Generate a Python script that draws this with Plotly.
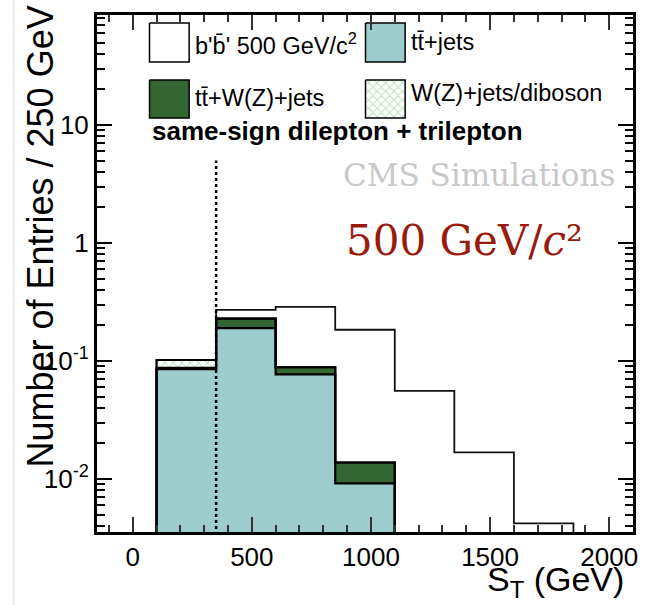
import plotly.graph_objects as go

# ---------------- data ----------------
bin_edges = [100, 350, 600, 850, 1100, 1350, 1600, 1850]
tt_jets = [0.0855, 0.190, 0.077, 0.0092, 0.0, 0.0, 0.0]
ttW_jets = [0.002, 0.039, 0.0115, 0.0046, 0.0, 0.0, 0.0]
wz_jets_diboson = [0.0145, 0.0, 0.0, 0.0, 0.0, 0.0, 0.0]
signal_bprime = [0.0, 0.271, 0.287, 0.184, 0.0558, 0.0168, 0.0042]
st_cut = 350
st_cut_top = 5.0

x_tickvals = [0, 500, 1000, 1500, 2000]
y_tickvals = [0.01, 0.1, 1, 10]
y_ticktext = ["10<sup>-2</sup>", "10<sup>-1</sup>", "1", "10"]

legend_labels = ["b'b\u0304' 500 GeV/c<sup>2</sup>", "tt\u0304+jets",
                 "tt\u0304+W(Z)+jets", "W(Z)+jets/diboson"]

# ---------------- style ----------------
C_TEAL = "#9ccccc"
C_GREEN = "#336633"
C_HATCH = "#7cc47c"
HATCH = dict(shape="x", fgcolor=C_HATCH, bgcolor="white", size=6, solidity=0.3)
FLOOR = 1e-4
L, R, T, B = 97, 638, 15, 532
W, H = 650, 605
SANS = "Liberation Sans, Arial, sans-serif"
SERIF = "DejaVu Serif, serif"

n = len(bin_edges) - 1
cum1 = tt_jets[:]
cum2 = [a + b for a, b in zip(cum1, ttW_jets)]
cum3 = [a + b for a, b in zip(cum2, wz_jets_diboson)]


def outline(vals):
    idx = [i for i, v in enumerate(vals) if v > 0]
    i0, i1 = idx[0], idx[-1]
    xs, ys = [bin_edges[i0]], [FLOOR]
    for i in range(i0, i1 + 1):
        xs += [bin_edges[i], bin_edges[i + 1]]
        ys += [vals[i], vals[i]]
    xs.append(bin_edges[i1 + 1])
    ys.append(FLOOR)
    return xs, ys


def band(lower, upper):
    idx = [i for i in range(n) if upper[i] > lower[i]]
    i0, i1 = idx[0], idx[-1]
    xs, ys = [], []
    for i in range(i0, i1 + 1):
        xs += [bin_edges[i], bin_edges[i + 1]]
        ys += [upper[i], upper[i]]
    for i in range(i1, i0 - 1, -1):
        lo = lower[i] if lower[i] > 0 else FLOOR
        xs += [bin_edges[i + 1], bin_edges[i]]
        ys += [lo, lo]
    return xs, ys


fig = go.Figure()

# signal outline (drawn first, hidden behind the stack)
sx, sy = outline(signal_bprime)
fig.add_trace(go.Scatter(x=sx, y=sy, mode="lines", line=dict(color="#111", width=1.8),
                         hoverinfo="skip", showlegend=False))

# stack fills
zeros = [0.0] * n
for lo, up, col, pat in [(zeros, cum1, C_TEAL, False), (cum1, cum2, C_GREEN, False),
                         (cum2, cum3, "white", True)]:
    bx, by = band(lo, up)
    kw = dict(x=bx, y=by, mode="none", fill="toself", fillcolor=col,
              hoverinfo="skip", showlegend=False)
    if pat:
        kw["fillpattern"] = HATCH
    fig.add_trace(go.Scatter(**kw))

# stack outlines
for c in [cum1, cum2, cum3]:
    ox, oy = outline(c)
    fig.add_trace(go.Scatter(x=ox, y=oy, mode="lines", line=dict(color="black", width=2.2),
                             hoverinfo="skip", showlegend=False))

# cut line
fig.add_trace(go.Scatter(x=[st_cut, st_cut], y=[FLOOR, st_cut_top], mode="lines",
                         line=dict(color="black", width=2.5, dash="dot"),
                         hoverinfo="skip", showlegend=False))

# ---------------- legend (pixel overlay axes) ----------------
boxes = [(150, 23, 190, 62, "white", False), (368, 23, 408, 62, C_TEAL, False),
         (150, 80, 190, 118, C_GREEN, False), (368, 80, 408, 118, "white", True)]
for (x0, y0, x1, y1, col, pat) in boxes:
    kw = dict(x=[x0, x1, x1, x0, x0], y=[y0, y0, y1, y1, y0], mode="lines",
              line=dict(color="black", width=1.5), fill="toself", fillcolor=col,
              xaxis="x2", yaxis="y2", hoverinfo="skip", showlegend=False)
    if pat:
        kw["fillpattern"] = HATCH
    fig.add_trace(go.Scatter(**kw))


def px(x):
    return (x - L) / (R - L)


def py(y):
    return (B - y) / (B - T)


ann = []
legend_pos = [(194, 44), (412, 42), (194, 98), (412, 93)]
for lab, (x, y) in zip(legend_labels, legend_pos):
    ann.append(dict(text=lab, x=px(x), y=py(y), xref="paper", yref="paper",
                    xanchor="left", yanchor="middle", showarrow=False,
                    font=dict(family=SANS, size=23.5, color="black")))

ann.append(dict(text="<b>same-sign dilepton + trilepton</b>", x=px(150), y=py(131),
                xref="paper", yref="paper", xanchor="left", yanchor="middle",
                showarrow=False, font=dict(family=SANS, size=26, color="black")))
ann.append(dict(text="CMS Simulations", x=px(622), y=py(175), xref="paper", yref="paper",
                xanchor="right", yanchor="middle", showarrow=False,
                font=dict(family=SERIF, size=31, color="#c8c8c8")))
ann.append(dict(text="500 GeV/<i>c</i>\u00b2", x=px(590), y=py(240), xref="paper", yref="paper",
                xanchor="right", yanchor="middle", showarrow=False,
                font=dict(family=SERIF, size=42, color="#9a1a0c")))
ann.append(dict(text="Number of Entries / 250 GeV", x=px(39), y=py(237), xref="paper",
                yref="paper", xanchor="center", yanchor="middle", textangle=-90,
                showarrow=False, font=dict(family=SANS, size=36, color="black")))
ann.append(dict(text="S<sub>T</sub> (GeV)", x=px(631), y=py(581), xref="paper", yref="paper",
                xanchor="right", yanchor="middle", showarrow=False,
                font=dict(family=SANS, size=34, color="black")))

minor_y = [m * 10 ** k for k in range(-3, 2) for m in range(2, 10)]

fig.update_layout(
    width=W, height=H,
    margin=dict(l=L, r=W - R, t=T, b=H - B),
    paper_bgcolor="white", plot_bgcolor="white",
    showlegend=False,
    annotations=ann,
    shapes=[dict(type="line", xref="paper", yref="paper", x0=px(13), x1=px(13),
                 y0=py(0), y1=py(605), line=dict(color="#ebebeb", width=2))],
    xaxis=dict(range=[-150, 2100], tickmode="array", tickvals=x_tickvals,
               ticks="inside", ticklen=15, tickwidth=1.5, tickcolor="#333",
               showline=True, linewidth=3, linecolor="black", mirror="allticks",
               showgrid=False, zeroline=False,
               minor=dict(tickmode="linear", tick0=0, dtick=100, ticks="inside",
                          ticklen=7, tickwidth=1.5, tickcolor="#333", showgrid=False),
               tickfont=dict(family=SANS, size=26, color="black")),
    yaxis=dict(type="log", range=[-2.449, 1.932], tickmode="array", tickvals=y_tickvals,
               ticktext=y_ticktext, ticks="inside", ticklen=15, tickwidth=1.5,
               tickcolor="black", showline=True, linewidth=3, linecolor="black",
               mirror="allticks", showgrid=False, zeroline=False,
               minor=dict(tickmode="array", tickvals=minor_y, ticks="inside", ticklen=8,
                          tickwidth=1.5, tickcolor="black", showgrid=False),
               tickfont=dict(family=SANS, size=26, color="black")),
    xaxis2=dict(range=[L, R], overlaying="x", visible=False),
    yaxis2=dict(range=[B, T], overlaying="y", visible=False),
)

fig.write_html("out.html")
